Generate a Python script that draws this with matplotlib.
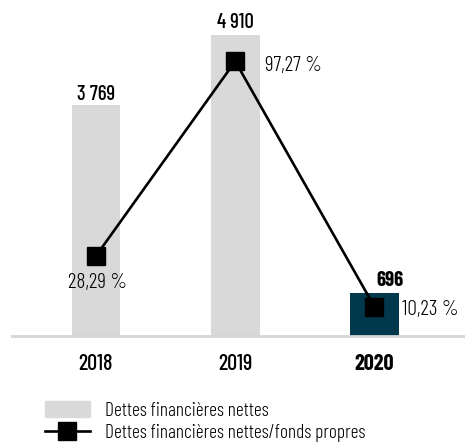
import matplotlib
matplotlib.use("Agg")
import matplotlib.pyplot as plt
from matplotlib.lines import Line2D
from matplotlib.patches import Patch

plt.rcParams['font.family'] = ['Barlow Condensed', 'DejaVu Sans']

# data
years = ['2018', '2019', '2020']
dettes = [3769, 4910, 696]
dettes_labels = ['3 769', '4 910', '696']
ratio = [28.29, 97.27, 10.23]
ratio_labels = ['28,29 %', '97,27 %', '10,23 %']

grey = '#d9d9d9'
teal = '#02384c'

W, H = 465, 443
fig = plt.figure(figsize=(W / 100, H / 100), dpi=100)
base = 335.7  # pixel row of the axis line
ax = fig.add_axes([12 / W, (H - base) / H, 1 - 12 / W, base / H])
x = list(range(len(years)))
colors = [grey, grey, teal]
ax.bar(x, dettes, width=0.35, color=colors, zorder=1)
ax.set_xlim(-0.603, 2.65)
ax.set_ylim(0, base / 0.0612)

for s in ['top', 'left', 'right']:
    ax.spines[s].set_visible(False)
ax.spines['bottom'].set_color('#d5d5d5')
ax.spines['bottom'].set_linewidth(2)
ax.set_yticks([])
ax.set_xticks(x)
ax.set_xticklabels(years, fontsize=16, fontweight=500)
ax.tick_params(axis='x', length=0, pad=13)
ax.get_xticklabels()[2].set_fontweight('bold')

# bar value labels
ax.text(0, dettes[0] + 85, dettes_labels[0], ha='center', va='baseline',
        fontsize=15, fontweight=500)
ax.text(1, dettes[1] + 110, dettes_labels[1], ha='center', va='baseline',
        fontsize=15, fontweight=500)
ax.text(2.108, dettes[2] + 114, dettes_labels[2], ha='center', va='baseline',
        fontsize=15, fontweight='bold')

# ratio line on secondary axis
ax2 = ax.twinx()
ax2.set_ylim(0, 119)
ax2.axis('off')
ax2.plot(x, ratio, color='black', lw=1.9, marker='s', markersize=12.5, zorder=3)
ax2.text(0.01, ratio[0] - 11.5, ratio_labels[0], ha='center', va='baseline',
         fontsize=15.5, fontweight=300)
ax2.text(1.214, ratio[1] - 3.4, ratio_labels[1], ha='left', va='baseline',
         fontsize=15.5, fontweight=300)
ax2.text(2.2, ratio[2] - 2.9, ratio_labels[2], ha='left', va='baseline',
         fontsize=15.5, fontweight=300)

handles = [Patch(color=grey),
           Line2D([], [], color='black', lw=1.9, marker='s', markersize=12.5)]
fig.legend(handles, ['Dettes financières nettes', 'Dettes financières nettes/fonds propres'],
           loc='upper left', bbox_to_anchor=(45 / W, 1 - 401 / H), frameon=False,
           prop={'size': 14, 'weight': 300}, handlelength=2.31, handleheight=0.87,
           handletextpad=0.77, labelspacing=0.2, borderpad=0, borderaxespad=0)

fig.savefig('out.png', dpi=100)
